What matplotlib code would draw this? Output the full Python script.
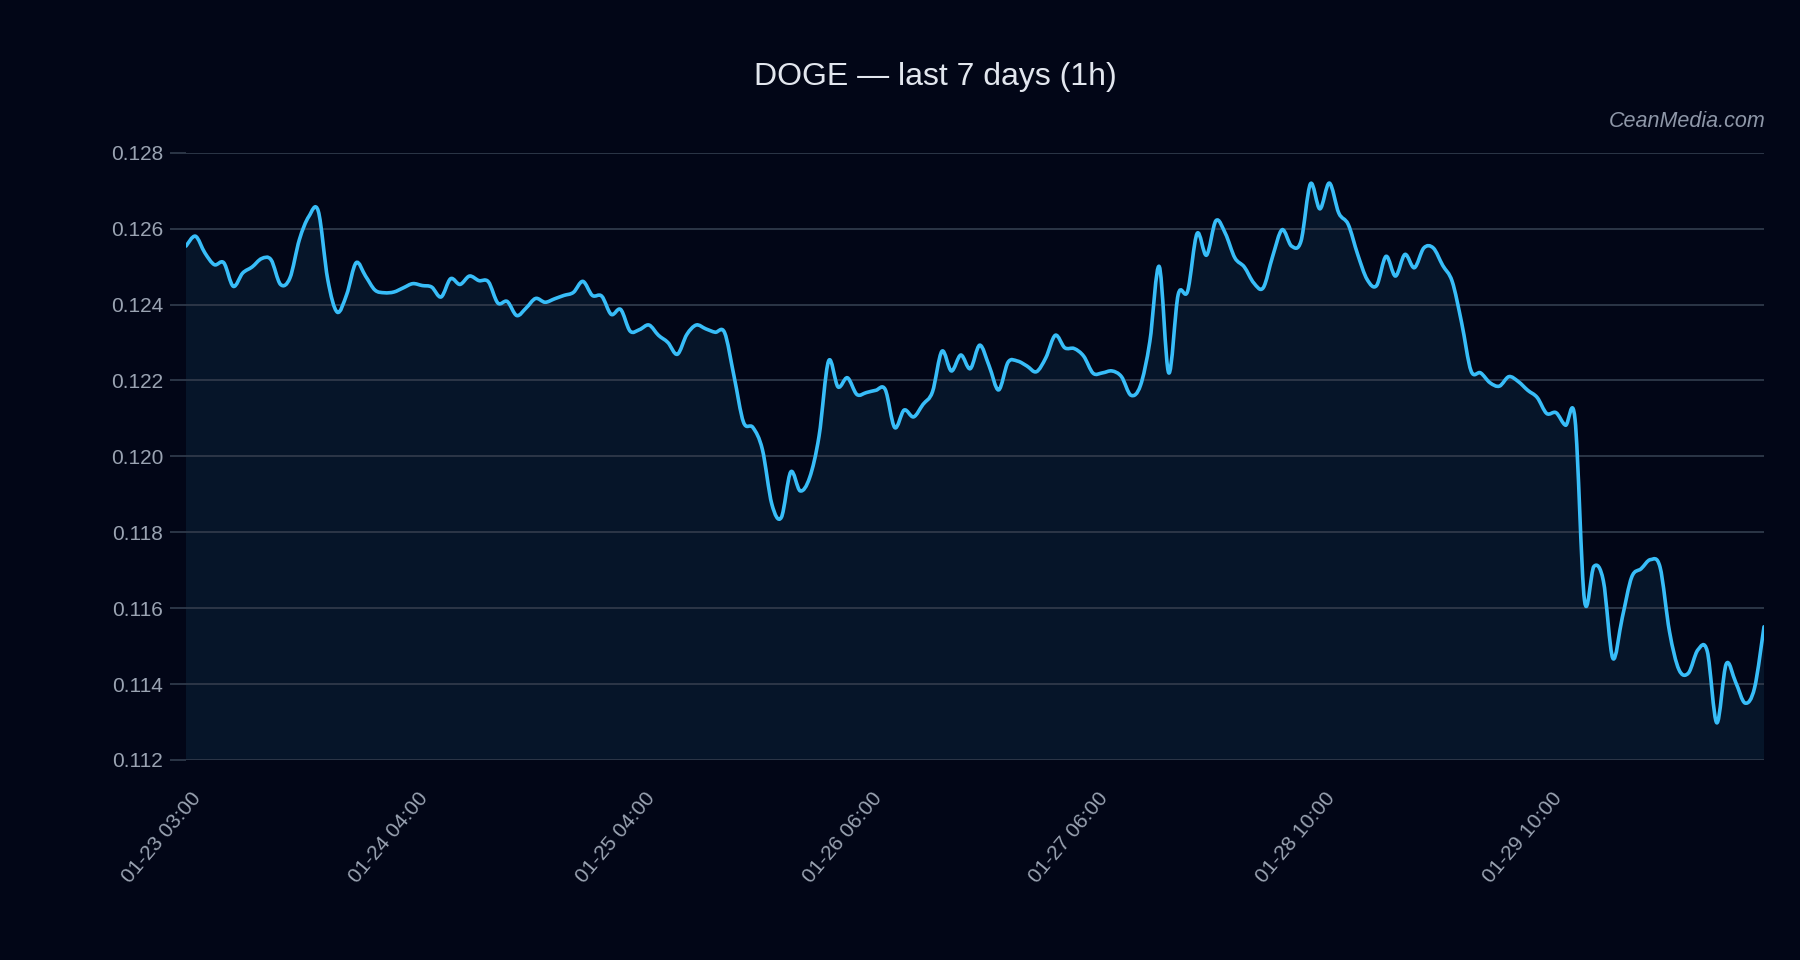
import numpy as np
import matplotlib
matplotlib.use("Agg")
import matplotlib.pyplot as plt
import matplotlib.transforms as mtransforms
from matplotlib.path import Path
from matplotlib.patches import PathPatch

plt.rcParams['font.family'] = ['Liberation Sans', 'DejaVu Sans']

# hourly closes (168 points)
price = [
    0.12554, 0.12580, 0.12536, 0.12505, 0.12510, 0.12448, 0.12483, 0.12499,
    0.12521, 0.12518, 0.12453, 0.12470, 0.12571, 0.12632, 0.12646, 0.12466,
    0.12380, 0.12426, 0.12510, 0.12475, 0.12438, 0.12431, 0.12433, 0.12444,
    0.12455, 0.12450, 0.12446, 0.12420, 0.12468, 0.12453, 0.12475, 0.12463,
    0.12460, 0.12404, 0.12408, 0.12371, 0.12391, 0.12416, 0.12406, 0.12415,
    0.12424, 0.12432, 0.12461, 0.12424, 0.12422, 0.12374, 0.12387, 0.12330,
    0.12334, 0.12346, 0.12319, 0.12300, 0.12269, 0.12321, 0.12346, 0.12336,
    0.12327, 0.12326, 0.12211, 0.12090, 0.12076, 0.12018, 0.11874, 0.11839,
    0.11959, 0.11909, 0.11944, 0.12054, 0.12251, 0.12183, 0.12207, 0.12163,
    0.12168, 0.12174, 0.12176, 0.12076, 0.12122, 0.12104, 0.12137, 0.12170,
    0.12277, 0.12225, 0.12267, 0.12231, 0.12293, 0.12238, 0.12175, 0.12248,
    0.12251, 0.12238, 0.12223, 0.12260, 0.12319, 0.12286, 0.12284, 0.12264,
    0.12219, 0.12220, 0.12225, 0.12210, 0.12161, 0.12186, 0.12302, 0.12500,
    0.12220, 0.12426, 0.12435, 0.12587, 0.12530, 0.12621, 0.12587, 0.12523,
    0.12499, 0.12457, 0.12444, 0.12527, 0.12597, 0.12554, 0.12567, 0.12718,
    0.12652, 0.12720, 0.12641, 0.12611, 0.12532, 0.12466, 0.12450, 0.12527,
    0.12475, 0.12532, 0.12497, 0.12549, 0.12549, 0.12503, 0.12461, 0.12352,
    0.12225, 0.12220, 0.12194, 0.12185, 0.12210, 0.12197, 0.12174, 0.12155,
    0.12113, 0.12115, 0.12082, 0.12098, 0.11621, 0.11710, 0.11672, 0.11468,
    0.11575, 0.11682, 0.11704, 0.11728, 0.11708, 0.11538, 0.11438, 0.11429,
    0.11490, 0.11486, 0.11298, 0.11453, 0.11405, 0.11350, 0.11390, 0.11551,
]
tick_labels = ['01-23 03:00', '01-24 04:00', '01-25 04:00', '01-26 06:00',
               '01-27 06:00', '01-28 10:00', '01-29 10:00']
y_ticks = [0.112, 0.114, 0.116, 0.118, 0.120, 0.122, 0.124, 0.126, 0.128]

bg = '#020617'
line_c = '#38bdf8'
grid_c = '#2f394a'
text_c = '#9aa3b2'

x = np.arange(len(price), dtype=float)
y = np.array(price)
y_min, y_max = y_ticks[0], y_ticks[-1]


def smooth_path(xs, ys):
    # catmull-rom through the points, written as cubic bezier segments
    p = np.column_stack([xs, ys])
    pp = np.vstack([p[0], p, p[-1]])
    verts = [p[0]]
    codes = [Path.MOVETO]
    for i in range(len(p) - 1):
        c1 = pp[i + 1] + (pp[i + 2] - pp[i]) / 6
        c2 = pp[i + 2] - (pp[i + 3] - pp[i + 1]) / 6
        verts += [c1, c2, pp[i + 2]]
        codes += [Path.CURVE4] * 3
    return verts, codes


fig = plt.figure(figsize=(18, 9.6), dpi=100, facecolor=bg)
ax = fig.add_axes([186 / 1800, 200 / 960, 1578 / 1800, 607.3 / 960])
ax.set_facecolor(bg)

verts, codes = smooth_path(x, y)

# area under the curve
fill_verts = verts + [(x[-1], y_min), (x[0], y_min), verts[0]]
fill_codes = codes + [Path.LINETO, Path.LINETO, Path.CLOSEPOLY]
ax.add_patch(PathPatch(Path(fill_verts, fill_codes), facecolor='#061529',
                       edgecolor='none', zorder=1))
ax.add_patch(PathPatch(Path(verts, codes), facecolor='none', edgecolor=line_c,
                       lw=2.6, joinstyle='round', capstyle='round', zorder=3))

ax.set_xlim(x[0], x[-1])
ax.set_ylim(y_min, y_max)

ax.set_yticks(y_ticks)
ax.set_yticklabels([f'{v:.3f}' for v in y_ticks])
ax.grid(axis='y', color=grid_c, lw=1.3, zorder=2)
ax.set_axisbelow(False)
ax.tick_params(axis='y', length=11.5, width=1.3, color=grid_c, pad=5,
               labelsize=15, labelcolor=text_c)

ax.set_xticks(x[::24])
ax.set_xticklabels(tick_labels, rotation=50, ha='right', va='center',
                   rotation_mode='anchor')
ax.tick_params(axis='x', length=0, pad=0, labelsize=15, labelcolor=text_c)
# nudge the rotated labels so their ends sit just right of each tick
shift = mtransforms.ScaledTranslation(12 / 100, -35 / 100, fig.dpi_scale_trans)
for lab in ax.get_xticklabels():
    lab.set_transform(lab.get_transform() + shift)

for s in ax.spines.values():
    s.set_visible(False)

fig.text(935 / 1800, 1 - 85 / 960, 'DOGE — last 7 days (1h)', ha='center',
         va='baseline', fontsize=23, color='#e2e6ee')
fig.text(1766 / 1800, 1 - 127 / 960, 'CeanMedia.com', ha='right',
         va='baseline', fontsize=15.5, style='italic', color='#8e97a8')

fig.savefig('out.png', dpi=100, facecolor=bg)
